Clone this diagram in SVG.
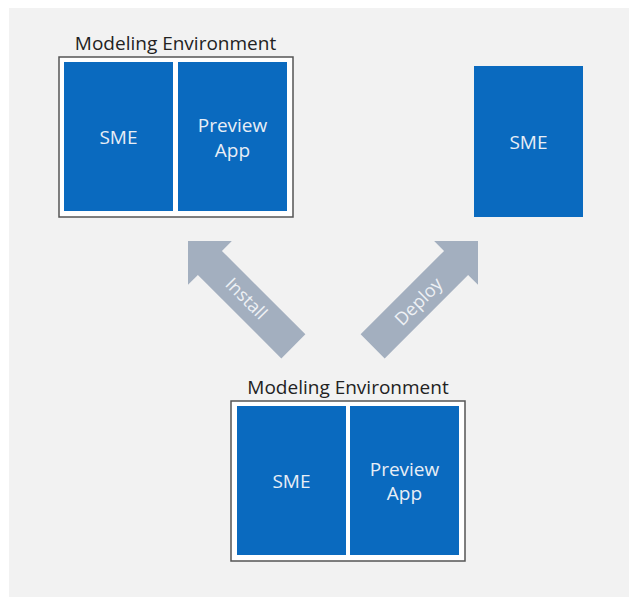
<svg xmlns="http://www.w3.org/2000/svg" width="629" height="597" viewBox="0 0 629 597">
<style>
.bg{fill:#f2f2f2}
.frame{fill:#ffffff;stroke:#555555;stroke-width:1.5}
.blue{fill:#0a6abf}
.lbl{font-family:"Open Sans","Liberation Sans",sans-serif;font-size:19px;fill:#e8eef6;text-anchor:middle}
.title{font-family:"Open Sans","Liberation Sans",sans-serif;font-size:19px;fill:#222222;text-anchor:middle}
.arrow{fill:#a3afbf}
.alabel{font-family:"Open Sans","Liberation Sans",sans-serif;font-size:18px;fill:#eef1f5;text-anchor:middle;dominant-baseline:central}
</style>
<defs>
<path id="bigArrow" d="M0,0 L31,31 L17,31 L17,149 L-17,149 L-17,31 L-31,31 Z"/>
</defs>
<rect class="bg" x="9" y="8" width="620" height="589"/>
<g id="env-top">
<text class="title" x="175.5" y="50">Modeling Environment</text>
<rect class="frame" x="59" y="57" width="234" height="160"/>
<g id="env-top-sme">
<rect class="blue" x="64" y="62" width="109" height="149"/>
<text class="lbl" x="118.5" y="144">SME</text>
</g>
<g id="env-top-preview">
<rect class="blue" x="178" y="62" width="109" height="149"/>
<text class="lbl" x="232.5" y="132">Preview</text>
<text class="lbl" x="232.5" y="156.5">App</text>
</g>
</g>
<g id="sme-deployed">
<rect class="blue" x="474" y="66" width="109" height="151"/>
<text class="lbl" x="528.5" y="149">SME</text>
</g>
<g id="env-bottom">
<text class="title" x="348" y="394">Modeling Environment</text>
<rect class="frame" x="231" y="401" width="234" height="160"/>
<g id="env-bottom-sme">
<rect class="blue" x="237" y="406" width="109" height="149"/>
<text class="lbl" x="291.5" y="488">SME</text>
</g>
<g id="env-bottom-preview">
<rect class="blue" x="350" y="406" width="109" height="149"/>
<text class="lbl" x="404.5" y="476">Preview</text>
<text class="lbl" x="404.5" y="500">App</text>
</g>
</g>
<g id="connectors">
<g id="install">
<use href="#bigArrow" class="arrow" transform="translate(188,241) rotate(-45)"/>
<text class="alabel" transform="translate(247,298) rotate(45)">Install</text>
</g>
<g id="deploy">
<use href="#bigArrow" class="arrow" transform="translate(478,241) rotate(45)"/>
<text class="alabel" transform="translate(418,301) rotate(-45)">Deploy</text>
</g>
</g>
</svg>
